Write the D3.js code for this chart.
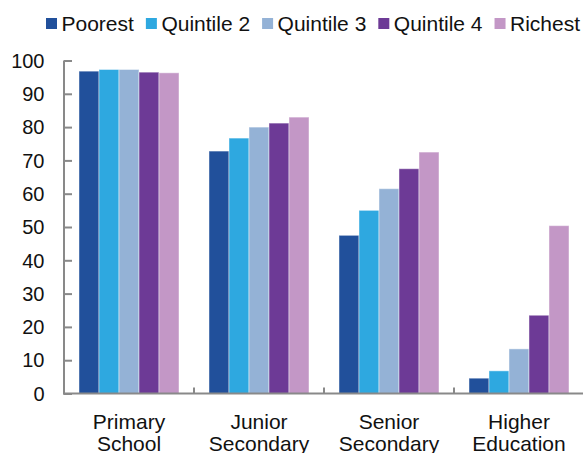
<!DOCTYPE html>
<html>
<head>
<meta charset="utf-8">
<script src="https://cdn.jsdelivr.net/npm/d3@7"></script>
<style>
  body { margin: 0; background: #fff; }
  svg { display: block; font-family: "Liberation Sans", Arial, sans-serif; }
</style>
</head>
<body>
<div id="chart"></div>
<script>
const categories = [["Primary", "School"], ["Junior", "Secondary"], ["Senior", "Secondary"], ["Higher", "Education"]];
const groups = ["Poorest", "Quintile 2", "Quintile 3", "Quintile 4", "Richest"];
const colors = ["#21509b", "#2ea8e0", "#94b2d6", "#6d3a96", "#c397c6"];
const values = [
  [96.8, 97.3, 97.3, 96.5, 96.3],
  [72.8, 76.7, 80.0, 81.2, 83.0],
  [47.5, 55.0, 61.5, 67.5, 72.5],
  [4.6, 6.8, 13.4, 23.5, 50.4]
];
const yTicks = [0, 10, 20, 30, 40, 50, 60, 70, 80, 90, 100];

const W = 583, H = 453;
const svg = d3.select("#chart").append("svg").attr("width", W).attr("height", H);

const x0 = d3.scaleBand().domain(d3.range(categories.length)).range([64, 584]).padding(0);
const x1 = d3.scaleBand().domain(groups).range([15, x0.bandwidth() - 15]).padding(0);
const y = d3.scaleLinear().domain([0, 100]).range([393.5, 60.5]);

// bars
categories.forEach((cat, i) => {
  svg.append("g")
    .attr("transform", `translate(${x0(i)},0)`)
    .selectAll("rect")
    .data(values[i])
    .join("rect")
    .attr("x", (d, j) => x1(groups[j]))
    .attr("y", d => y(d))
    .attr("width", x1.bandwidth())
    .attr("height", d => y(0) - y(d))
    .attr("fill", (d, j) => colors[j])
    .attr("stroke", "rgba(255,255,255,0.45)")
    .attr("stroke-width", 1);
});

const axisColor = "#898989";

// y axis
const yAxis = svg.append("g")
  .attr("transform", "translate(64,0)")
  .call(d3.axisRight(y).tickValues(yTicks).tickSize(8).tickFormat(""));
yAxis.select(".domain").remove();
yAxis.selectAll(".tick line").attr("stroke", axisColor).attr("stroke-width", 2);
svg.append("line")
  .attr("x1", 64).attr("x2", 64).attr("y1", y(100)).attr("y2", y(0) + 1)
  .attr("stroke", axisColor).attr("stroke-width", 2);

svg.append("g").selectAll("text")
  .data(yTicks)
  .join("text")
  .attr("x", 44.5)
  .attr("y", d => y(d))
  .attr("dy", "0.36em")
  .attr("text-anchor", "end")
  .attr("font-size", 20)
  .attr("fill", "#111")
  .text(d => d);

// x axis
svg.append("line")
  .attr("x1", 63).attr("x2", 584).attr("y1", y(0)).attr("y2", y(0))
  .attr("stroke", axisColor).attr("stroke-width", 2);
svg.append("g").selectAll("line")
  .data(d3.range(1, categories.length))
  .join("line")
  .attr("x1", i => x0(i)).attr("x2", i => x0(i))
  .attr("y1", y(0)).attr("y2", y(0) - 6)
  .attr("stroke", axisColor).attr("stroke-width", 2);

const catLabels = svg.append("g").selectAll("text")
  .data(categories)
  .join("text")
  .attr("x", (d, i) => x0(i) + x0.bandwidth() / 2)
  .attr("y", 428.5)
  .attr("text-anchor", "middle")
  .attr("font-size", 21)
  .attr("fill", "#111");
catLabels.each(function(d) {
  d3.select(this).selectAll("tspan")
    .data(d)
    .join("tspan")
    .attr("x", d3.select(this).attr("x"))
    .attr("dy", (t, k) => k === 0 ? 0 : 22.5)
    .text(t => t);
});

// legend
const legend = svg.append("g").attr("font-size", 21).attr("fill", "#111");
let lx = 46;
groups.forEach((g, j) => {
  legend.append("rect")
    .attr("x", lx).attr("y", 18)
    .attr("width", 11).attr("height", 11)
    .attr("fill", colors[j]);
  const t = legend.append("text")
    .attr("x", lx + 15.5).attr("y", 31)
    .text(g);
  lx += 15.5 + t.node().getComputedTextLength() + 12;
});
</script>
</body>
</html>
